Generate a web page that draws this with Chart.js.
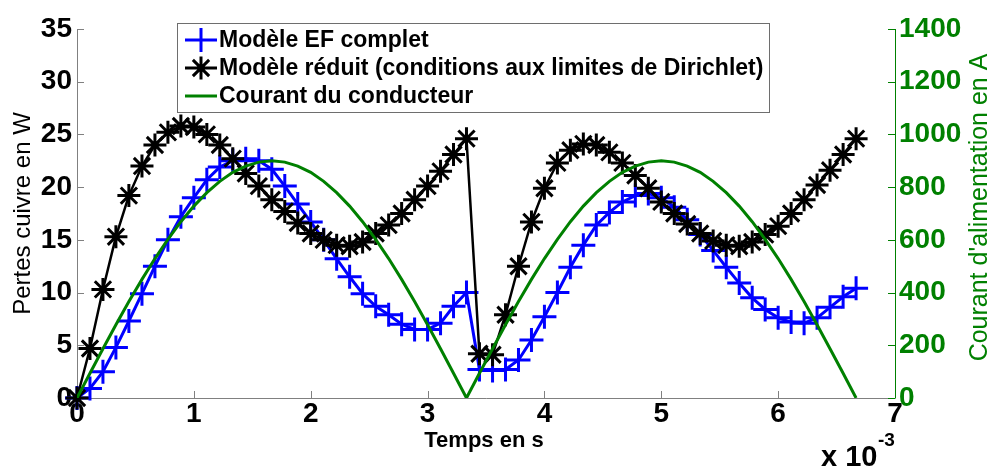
<!DOCTYPE html>
<html><head><meta charset="utf-8">
<script src="https://cdn.jsdelivr.net/npm/chart.js@4.4.1/dist/chart.umd.min.js"></script>
<style>html,body{margin:0;padding:0;background:#fff;}#wrap{width:991px;height:470px;position:relative;}</style>
</head><body><div id="wrap"><canvas id="c" width="991" height="470"></canvas></div>
<script>
// time in ms (axis shown as x 10^-3 s)
const timesMs = [0, 0.111, 0.222, 0.333, 0.444, 0.556, 0.667, 0.778, 0.889, 1.000,
  1.111, 1.222, 1.333, 1.444, 1.556, 1.667, 1.778, 1.889, 2.000, 2.111,
  2.222, 2.333, 2.444, 2.556, 2.667, 2.778, 2.889, 3.000, 3.111, 3.222,
  3.333, 3.444, 3.556, 3.667, 3.778, 3.889, 4.000, 4.111, 4.222, 4.333,
  4.444, 4.556, 4.667, 4.778, 4.889, 5.000, 5.111, 5.222, 5.333, 5.444,
  5.556, 5.667, 5.778, 5.889, 6.000, 6.111, 6.222, 6.333, 6.444, 6.556, 6.667];
const pertesEF = [0, 0.9, 2.5, 4.8, 7.3, 9.9, 12.5, 15.0, 17.2, 19.0,
  20.7, 21.9, 22.5, 22.7, 22.5, 21.7, 20.1, 18.4, 16.7, 15.0,
  13.2, 11.5, 9.9, 8.7, 7.9, 7.0, 6.5, 6.5, 7.1, 8.7,
  10.0, 2.7, 2.6, 2.7, 3.6, 5.5, 7.7, 10.0, 12.4, 14.5,
  16.4, 17.6, 18.6, 19.2, 19.4, 19.0, 18.1, 16.9, 15.5, 14.0,
  12.4, 10.9, 9.5, 8.4, 7.6, 7.2, 7.1, 7.6, 8.6, 9.6, 10.4];
const pertesReduit = [0, 4.7, 10.3, 15.3, 19.2, 22.0, 24.0, 25.2, 25.8, 25.7,
  25.0, 24.0, 22.7, 21.3, 20.1, 18.8, 17.7, 16.6, 15.6, 15.0,
  14.5, 14.4, 14.8, 15.6, 16.4, 17.5, 18.8, 20.1, 21.5, 23.1,
  24.6, 4.2, 4.1, 7.9, 12.5, 16.7, 19.9, 22.3, 23.5, 24.1,
  24.0, 23.3, 22.3, 21.1, 19.9, 18.6, 17.5, 16.5, 15.6, 14.9,
  14.5, 14.4, 14.8, 15.5, 16.3, 17.5, 18.8, 20.2, 21.6, 23.1, 24.6];
const courant = [0, 94, 187, 278, 366, 450, 529, 602, 669, 728,
  779, 822, 856, 880, 895, 900, 895, 880, 856, 822,
  779, 728, 669, 602, 529, 450, 366, 278, 187, 94,
  0, 94, 187, 278, 366, 450, 529, 602, 669, 728,
  779, 822, 856, 880, 895, 900, 895, 880, 856, 822,
  779, 728, 669, 602, 529, 450, 366, 278, 187, 94, 0];
const xTicks = [0, 1, 2, 3, 4, 5, 6, 7];
const leftTicks = [0, 5, 10, 15, 20, 25, 30, 35];
const rightTicks = [0, 200, 400, 600, 800, 1000, 1200, 1400];
const seriesNames = ['Modèle EF complet', 'Modèle réduit (conditions aux limites de Dirichlet)', 'Courant du conducteur'];
const xTitle = 'Temps en s';
const yTitle = 'Pertes cuivre en W';
const y1Title = "Courant d'alimentation en A";

const BLUE = 'rgb(0,0,255)', BLACK = '#000000', GREEN = 'rgb(0,128,0)', AXIS = '#808080';
const FONT = "'Liberation Sans', Arial, sans-serif";
const pts = ys => timesMs.map((t, i) => ({x: t, y: ys[i]}));
const setTicks = arr => (s => { s.ticks = arr.map(v => ({value: v})); });
const plain = v => String(v);

const decor = {
  id: 'decor',
  beforeDatasetsDraw(chart) {
    const {ctx, chartArea: a, scales: {x, y, y1}} = chart;
    ctx.save();
    ctx.lineWidth = 1;
    ctx.strokeStyle = AXIS;
    ctx.beginPath();
    ctx.moveTo(a.left + 0.5, a.top); ctx.lineTo(a.left + 0.5, a.bottom + 0.5); ctx.lineTo(a.right, a.bottom + 0.5);
    leftTicks.forEach(v => { const py = Math.round(y.getPixelForValue(v)) + 0.5; ctx.moveTo(a.left, py); ctx.lineTo(a.left + 7, py); });
    xTicks.forEach(v => { const px = Math.round(x.getPixelForValue(v)) + 0.5; ctx.moveTo(px, a.bottom); ctx.lineTo(px, a.bottom - 7); });
    ctx.stroke();
    ctx.strokeStyle = GREEN;
    ctx.beginPath();
    ctx.moveTo(a.right + 0.5, a.top); ctx.lineTo(a.right + 0.5, a.bottom + 0.5);
    rightTicks.forEach(v => { const py = Math.round(y1.getPixelForValue(v)) + 0.5; ctx.moveTo(a.right, py); ctx.lineTo(a.right - 7, py); });
    ctx.stroke();
    ctx.restore();
  },
  afterDraw(chart) {
    const {ctx, chartArea: a} = chart;
    ctx.save();
    // axis titles
    ctx.fillStyle = BLACK;
    ctx.font = '24px ' + FONT;
    ctx.textAlign = 'center'; ctx.textBaseline = 'middle';
    ctx.save(); ctx.translate(23, (a.top + a.bottom) / 2); ctx.rotate(-Math.PI / 2); ctx.fillText(yTitle, 0, 0); ctx.restore();
    ctx.fillStyle = GREEN;
    ctx.font = '25px ' + FONT;
    ctx.save(); ctx.translate(980, (a.top + a.bottom) / 2 - 6); ctx.rotate(-Math.PI / 2); ctx.fillText(y1Title, 0, 0); ctx.restore();
    ctx.fillStyle = BLACK;
    ctx.font = 'bold 22px ' + FONT;
    ctx.fillText(xTitle, 484, 441);
    ctx.textAlign = 'left'; ctx.textBaseline = 'alphabetic';
    ctx.font = 'bold 29px ' + FONT;
    ctx.fillText('x 10', 821, 466);
    ctx.font = 'bold 19px ' + FONT;
    ctx.fillText('-3', 878, 446);
    // legend
    const L = 177, T = 23, R = 769, B = 112;
    ctx.fillStyle = '#fff'; ctx.fillRect(L, T, R - L, B - T);
    ctx.strokeStyle = '#6e6e6e'; ctx.lineWidth = 1; ctx.strokeRect(L + 0.5, T + 0.5, R - L, B - T);
    const rows = [40, 68, 96], colors = [BLUE, BLACK, GREEN];
    const sx0 = 185, sx1 = 217, cx = 201;
    rows.forEach((ry, i) => {
      ctx.strokeStyle = colors[i]; ctx.lineWidth = 3;
      ctx.beginPath(); ctx.moveTo(sx0, ry); ctx.lineTo(sx1, ry);
      if (i === 0) { ctx.moveTo(cx, ry - 12); ctx.lineTo(cx, ry + 12); }
      if (i === 1) {
        const r = 11.5, d = r * Math.SQRT1_2;
        ctx.moveTo(cx, ry - r); ctx.lineTo(cx, ry + r);
        ctx.moveTo(cx - r, ry); ctx.lineTo(cx + r, ry);
        ctx.moveTo(cx - d, ry - d); ctx.lineTo(cx + d, ry + d);
        ctx.moveTo(cx - d, ry + d); ctx.lineTo(cx + d, ry - d);
      }
      ctx.stroke();
      ctx.fillStyle = BLACK; ctx.font = 'bold 23px ' + FONT; ctx.textBaseline = 'middle';
      ctx.fillText(seriesNames[i], 219, ry + 1);
    });
    ctx.restore();
  }
};

new Chart(document.getElementById('c'), {
  type: 'line',
  data: {
    datasets: [
      {label: seriesNames[2], data: pts(courant), yAxisID: 'y1', borderColor: GREEN, borderWidth: 3, pointRadius: 0, order: 0, tension: 0},
      {label: seriesNames[1], data: pts(pertesReduit), yAxisID: 'y', borderColor: BLACK, borderWidth: 2.5, pointStyle: 'star', pointRadius: 11.5, pointBorderWidth: 3, pointBorderColor: BLACK, order: 1, clip: false, tension: 0},
      {label: seriesNames[0], data: pts(pertesEF), yAxisID: 'y', borderColor: BLUE, borderWidth: 3, pointStyle: 'cross', pointRadius: 12, pointBorderWidth: 3, pointBorderColor: BLUE, order: 2, clip: false, tension: 0}
    ]
  },
  options: {
    responsive: false, animation: false, events: [],
    layout: {padding: {top: 29, left: 0, right: 0, bottom: 0}},
    plugins: {legend: {display: false}, tooltip: {enabled: false}, title: {display: false}},
    scales: {
      x: {type: 'linear', min: 0, max: 7, afterBuildTicks: setTicks(xTicks), afterFit: s => { s.height = 72; },
        grid: {display: false}, border: {display: false},
        ticks: {color: BLACK, font: {family: FONT, size: 28, weight: 'bold'}, padding: -9, maxRotation: 0, callback: plain}},
      y: {type: 'linear', position: 'left', min: 0, max: 35, afterBuildTicks: setTicks(leftTicks), afterFit: s => { s.width = 77; },
        grid: {display: false}, border: {display: false},
        ticks: {color: BLACK, font: {family: FONT, size: 28, weight: 'bold'}, padding: -3, callback: plain}},
      y1: {type: 'linear', position: 'right', min: 0, max: 1400, afterBuildTicks: setTicks(rightTicks), afterFit: s => { s.width = 96; },
        grid: {display: false}, border: {display: false},
        ticks: {color: GREEN, font: {family: FONT, size: 28, weight: 'bold'}, padding: -4, callback: plain}}
    }
  },
  plugins: [decor]
});
</script></body></html>
